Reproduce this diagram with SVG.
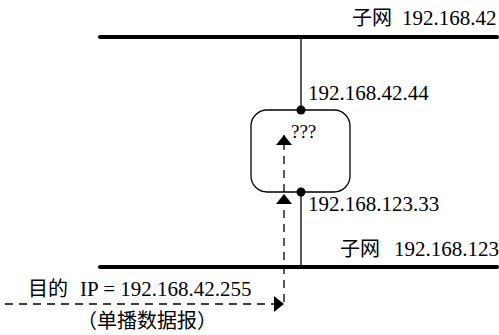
<svg xmlns="http://www.w3.org/2000/svg" width="499" height="335" viewBox="0 0 499 335">
<style>
.bus{stroke:#000;stroke-width:4;stroke-linecap:round}
.wire{stroke:#000;stroke-width:1.3;fill:none}
.dash{stroke:#000;stroke-width:1.3;fill:none;stroke-dasharray:8 6}
.t{font-family:"Liberation Serif",serif;font-size:21px;fill:#000}
.c{font-family:"Noto Sans CJK SC",sans-serif;font-size:20px;fill:#000}
</style>
<defs>
<marker id="ah" viewBox="0 0 10 16" refX="10" refY="8" markerWidth="10" markerHeight="16" markerUnits="userSpaceOnUse" orient="auto"><path d="M0,0 L10,8 L0,16 z" fill="#000"/></marker>
</defs>
<g id="subnet42">
<line class="bus" x1="100" y1="37" x2="497" y2="37"/>
<text class="t"><tspan class="c" x="352" y="25">子网</tspan><tspan x="402" y="25">192.168.42</tspan></text>
</g>
<g id="subnet123">
<line class="bus" x1="100" y1="267" x2="497" y2="267"/>
<text class="t"><tspan class="c" x="340" y="256">子网</tspan><tspan x="394" y="256">192.168.123</tspan></text>
</g>
<g id="router">
<rect x="251" y="110" width="99" height="82" rx="16" ry="16" class="wire"/>
<text class="t" x="291" y="138" style="font-size:19px">???</text>
</g>
<g id="connectors">
<line class="wire" x1="301" y1="37" x2="301" y2="110"/>
<line class="wire" x1="301" y1="192" x2="301" y2="267"/>
<circle cx="301" cy="110" r="4.5" fill="#000"/>
<circle cx="301" cy="192" r="4.5" fill="#000"/>
<line class="dash" x1="5" y1="304" x2="284" y2="304" marker-end="url(#ah)" stroke-dasharray="9 6"/>
<line class="dash" x1="284" y1="302" x2="284" y2="194" marker-end="url(#ah)"/>
<line class="dash" x1="284" y1="192" x2="284" y2="135" marker-end="url(#ah)"/>
</g>
<g id="labels">
<text class="t" x="308" y="100">192.168.42.44</text>
<text class="t" x="308" y="211">192.168.123.33</text>
<text class="t"><tspan class="c" x="28" y="296">目的</tspan><tspan x="80" y="296">IP = 192.168.42.255</tspan></text>
<text class="c" x="77" y="328">（单播数据报）</text>
</g>
</svg>
